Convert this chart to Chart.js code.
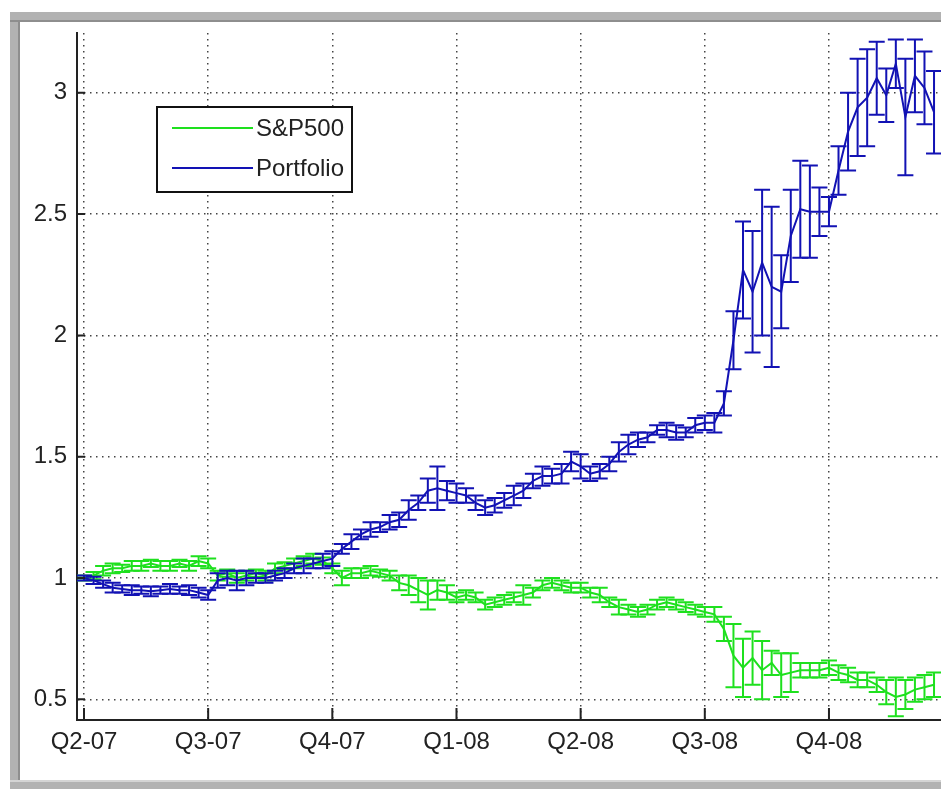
<!DOCTYPE html>
<html>
<head>
<meta charset="utf-8">
<script src="https://cdn.jsdelivr.net/npm/chart.js@4"></script>
<style>
  html, body { margin: 0; padding: 0; background: #fff; }
  body { width: 941px; height: 789px; position: relative; overflow: hidden; }
  .frame { position: absolute; background: #b2b2b2; }
  #fl { left: 10px; top: 12px; width: 10px; height: 777px; box-shadow: inset -2px 0 0 #8e8e8e; }
  #ft { left: 10px; top: 12px; width: 931px; height: 10px; box-shadow: inset 0 -2px 0 #8e8e8e; }
  #fb { left: 10px; top: 780px; width: 931px; height: 9px; box-shadow: inset 0 2px 0 #d4d4d4; }
  #wrap { position: absolute; left: 0; top: 0; width: 941px; height: 789px; }
  canvas { display: block; }
</style>
</head>
<body>
<div class="frame" id="fl"></div>
<div class="frame" id="ft"></div>
<div class="frame" id="fb"></div>
<div id="wrap"><canvas id="grafico" width="941" height="789"></canvas></div>
<script>
// weekly values, week 0 = start of Q2-07
const quarterLabels = ['Q2-07', 'Q3-07', 'Q4-07', 'Q1-08', 'Q2-08', 'Q3-08', 'Q4-08'];
const quarterWeeks = [0, 13, 26, 39, 52, 65, 78];
const yTicks = [0.5, 1, 1.5, 2, 2.5, 3];

const sp500 = [
  1.00, 1.01, 1.03, 1.04, 1.04, 1.05, 1.05, 1.06, 1.05, 1.05,
  1.06, 1.05, 1.07, 1.06, 1.01, 1.02, 1.00, 1.01, 1.02, 1.01,
  1.04, 1.05, 1.06, 1.07, 1.08, 1.07, 1.04, 1.00, 1.02, 1.02,
  1.03, 1.02, 1.01, 0.98, 0.97, 0.95, 0.93, 0.95, 0.94, 0.92,
  0.93, 0.92, 0.89, 0.90, 0.91, 0.92, 0.93, 0.94, 0.97, 0.98,
  0.97, 0.96, 0.96, 0.94, 0.93, 0.90, 0.88, 0.87, 0.86, 0.87,
  0.89, 0.90, 0.89, 0.88, 0.87, 0.86, 0.85, 0.79, 0.68, 0.63,
  0.67, 0.62, 0.65, 0.60, 0.61, 0.62, 0.62, 0.62, 0.63, 0.61,
  0.60, 0.58, 0.58, 0.56, 0.53, 0.51, 0.52, 0.54, 0.55, 0.56
];
const sp500Err = [
  0.01, 0.015, 0.02, 0.02, 0.015, 0.02, 0.02, 0.015, 0.02, 0.02,
  0.015, 0.02, 0.02, 0.02, 0.02, 0.015, 0.02, 0.02, 0.015, 0.02,
  0.02, 0.015, 0.02, 0.02, 0.02, 0.015, 0.02, 0.03, 0.02, 0.02,
  0.02, 0.015, 0.02, 0.03, 0.04, 0.05, 0.06, 0.04, 0.03, 0.02,
  0.02, 0.02, 0.02, 0.02, 0.02, 0.02, 0.04, 0.02, 0.02, 0.02,
  0.02, 0.02, 0.02, 0.02, 0.03, 0.02, 0.03, 0.02, 0.02, 0.02,
  0.02, 0.02, 0.02, 0.02, 0.02, 0.02, 0.03, 0.05, 0.13, 0.12,
  0.11, 0.12, 0.05, 0.09, 0.08, 0.03, 0.03, 0.03, 0.03, 0.03,
  0.03, 0.03, 0.03, 0.03, 0.05, 0.08, 0.06, 0.05, 0.05, 0.05
];
const portfolio = [
  1.00, 0.99, 0.975, 0.96, 0.955, 0.95, 0.95, 0.945, 0.95, 0.955,
  0.95, 0.95, 0.94, 0.93, 0.99, 1.00, 0.99, 1.00, 1.00, 1.00,
  1.01, 1.02, 1.04, 1.05, 1.06, 1.07, 1.08, 1.12, 1.15, 1.18,
  1.20, 1.21, 1.23, 1.24, 1.28, 1.31, 1.36, 1.37, 1.36, 1.35,
  1.34, 1.31, 1.29, 1.30, 1.32, 1.34, 1.36, 1.40, 1.42, 1.42,
  1.43, 1.48, 1.46, 1.43, 1.44, 1.47, 1.52, 1.55, 1.57, 1.58,
  1.61, 1.61, 1.60, 1.60, 1.63, 1.64, 1.64, 1.72, 1.98, 2.27,
  2.18, 2.30, 2.20, 2.18, 2.41, 2.52, 2.51, 2.51, 2.51, 2.68,
  2.84, 2.94, 2.98, 3.06, 2.99, 3.12, 2.90, 3.07, 3.02, 2.92
];
const portfolioErr = [
  0.01, 0.015, 0.015, 0.02, 0.015, 0.02, 0.015, 0.02, 0.015, 0.02,
  0.015, 0.02, 0.02, 0.02, 0.03, 0.03, 0.04, 0.03, 0.02, 0.02,
  0.02, 0.02, 0.02, 0.03, 0.02, 0.03, 0.03, 0.02, 0.03, 0.02,
  0.03, 0.02, 0.03, 0.03, 0.04, 0.03, 0.05, 0.09, 0.04, 0.04,
  0.03, 0.03, 0.03, 0.03, 0.03, 0.04, 0.03, 0.03, 0.04, 0.03,
  0.04, 0.04, 0.05, 0.03, 0.03, 0.03, 0.04, 0.04, 0.03, 0.02,
  0.02, 0.03, 0.03, 0.02, 0.03, 0.03, 0.04, 0.05, 0.12, 0.20,
  0.25, 0.30, 0.33, 0.15, 0.19, 0.20, 0.19, 0.10, 0.06, 0.10,
  0.16, 0.20, 0.20, 0.15, 0.11, 0.10, 0.24, 0.15, 0.15, 0.17
];

const green = '#1ee01e';
const blue = '#1212b4';
const errs = [sp500Err, portfolioErr];

// error bars drawn right after each line, through the chart scales
const errorBars = {
  id: 'errorBars',
  afterDatasetDraw(chart, args) {
    const e = errs[args.index];
    const ds = chart.data.datasets[args.index];
    const { ctx, chartArea, scales: { x, y } } = chart;
    const cap = 8;
    ctx.save();
    ctx.beginPath();
    ctx.rect(chartArea.left, chartArea.top, chartArea.right - chartArea.left, chartArea.bottom - chartArea.top);
    ctx.clip();
    ctx.strokeStyle = ds.borderColor;
    ctx.lineWidth = 2;
    ds.data.forEach((p, i) => {
      const px = x.getPixelForValue(p.x);
      const top = y.getPixelForValue(p.y + e[i]);
      const bot = y.getPixelForValue(p.y - e[i]);
      ctx.beginPath();
      ctx.moveTo(px, top); ctx.lineTo(px, bot);
      ctx.moveTo(px - cap, top); ctx.lineTo(px + cap, top);
      ctx.moveTo(px - cap, bot); ctx.lineTo(px + cap, bot);
      ctx.stroke();
    });
    ctx.restore();
  }
};

// inward tick marks and the boxed legend, matlab style
const decor = {
  id: 'decor',
  afterDraw(chart) {
    const { ctx, chartArea: a, scales: { x, y } } = chart;
    ctx.save();
    ctx.strokeStyle = '#222';
    ctx.lineWidth = 2;
    ctx.beginPath();
    quarterWeeks.forEach(w => {
      const px = x.getPixelForValue(w);
      ctx.moveTo(px, a.bottom); ctx.lineTo(px, a.bottom - 12);
    });
    yTicks.forEach(v => {
      const py = y.getPixelForValue(v);
      ctx.moveTo(a.left, py); ctx.lineTo(a.left + 8, py);
    });
    ctx.stroke();

    // legend
    const lx = 157, ly = 107, lw = 195, lh = 85;
    ctx.fillStyle = '#fff';
    ctx.fillRect(lx, ly, lw, lh);
    ctx.strokeStyle = '#111';
    ctx.lineWidth = 2;
    ctx.strokeRect(lx, ly, lw, lh);
    ctx.font = '24px "Liberation Sans", Arial, sans-serif';
    ctx.textBaseline = 'middle';
    chart.data.datasets.forEach((ds, i) => {
      const yy = ly + 21 + i * 40;
      ctx.strokeStyle = ds.borderColor;
      ctx.lineWidth = 2;
      ctx.beginPath();
      ctx.moveTo(lx + 15, yy); ctx.lineTo(lx + 96, yy);
      ctx.stroke();
      ctx.fillStyle = '#222';
      ctx.fillText(ds.label, lx + 99, yy + 1);
    });
    ctx.restore();
  }
};

const ctx = document.getElementById('grafico').getContext('2d');
const font = { family: '"Liberation Sans", Arial, sans-serif', size: 24 };

new Chart(ctx, {
  type: 'line',
  data: {
    datasets: [
      {
        label: 'S&P500',
        data: sp500.map((v, i) => ({ x: i, y: v })),
        borderColor: green,
        borderWidth: 2,
        pointRadius: 0,
        tension: 0,
        order: 1
      },
      {
        label: 'Portfolio',
        data: portfolio.map((v, i) => ({ x: i, y: v })),
        borderColor: blue,
        borderWidth: 2,
        pointRadius: 0,
        tension: 0,
        order: 0
      }
    ]
  },
  options: {
    responsive: false,
    animation: false,
    devicePixelRatio: 1,
    layout: { padding: { left: 0, top: 33, right: 0, bottom: 0 } },
    plugins: {
      legend: { display: false },
      tooltip: { enabled: false }
    },
    scales: {
      x: {
        type: 'linear',
        min: -0.733,
        max: 89.73,
        afterBuildTicks: s => { s.ticks = quarterWeeks.map(v => ({ value: v })); },
        afterFit: s => { s.height = 69; },
        ticks: {
          color: '#222',
          font: font,
          padding: 8,
          maxRotation: 0,
          autoSkip: false,
          callback: v => quarterLabels[quarterWeeks.indexOf(v)]
        },
        grid: { color: '#444', lineWidth: 1.5, drawTicks: false },
        border: { display: true, color: '#222', width: 2, dash: [1.5, 4.5] }
      },
      y: {
        type: 'linear',
        min: 0.4147,
        max: 3.2465,
        afterBuildTicks: s => { s.ticks = yTicks.map(v => ({ value: v })); },
        afterFit: s => { s.width = 77; },
        ticks: {
          color: '#222',
          font: font,
          padding: 10,
          callback: v => String(v)
        },
        grid: { color: '#444', lineWidth: 1.5, drawTicks: false },
        border: { display: true, color: '#222', width: 2, dash: [1.5, 4.5] }
      }
    }
  },
  plugins: [errorBars, decor]
});
</script>
</body>
</html>
